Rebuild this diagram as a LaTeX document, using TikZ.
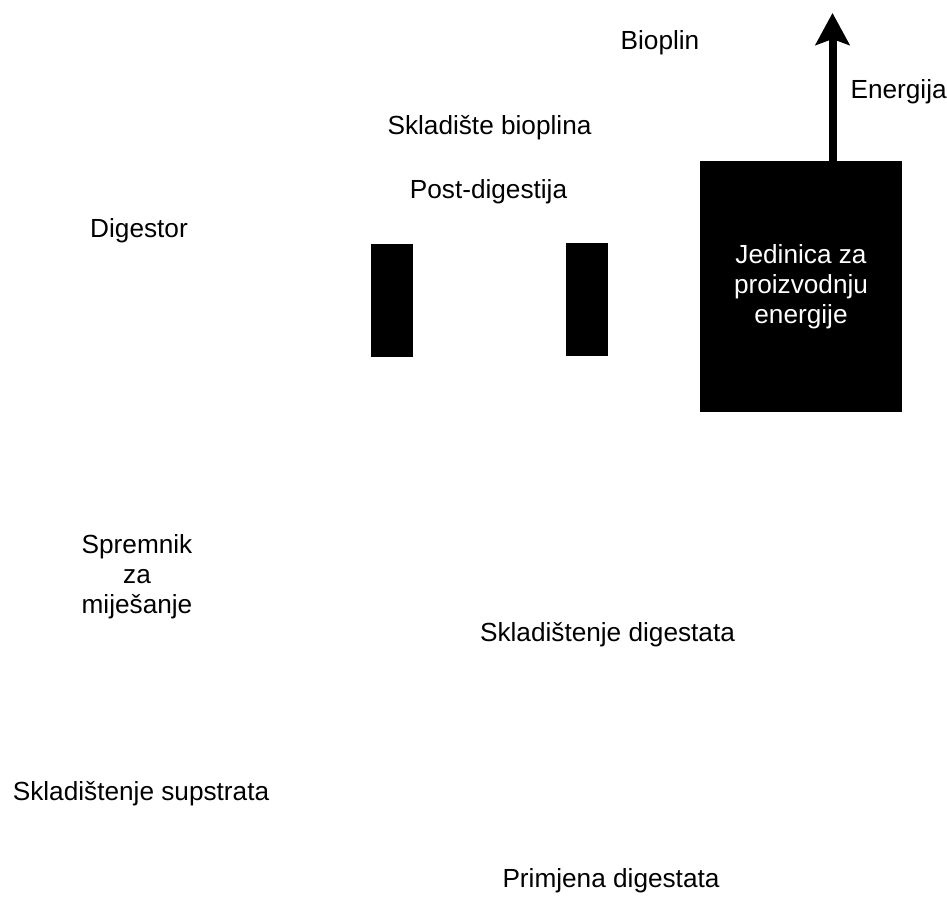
\documentclass[tikz,border=0pt]{standalone}
\usepackage{fontspec}
\setmainfont{Liberation Sans}
\usepackage{tikz}
\usetikzlibrary{arrows.meta,positioning}

\newcommand{\plantfont}{\fontsize{26.2}{30}\selectfont}

\begin{document}
\begin{tikzpicture}[
    x=1pt, y=-1pt,
    tag/.style={anchor=base, align=center, font=\plantfont},
    tank/.style={rectangle, fill=black, inner sep=0pt,
                minimum width=42pt, minimum height=113pt},
    unit/.style={rectangle, fill=black, text=white, inner sep=0pt,
                minimum width=202pt, minimum height=251pt,
                align=center, font=\plantfont},
    >=Stealth
]
\useasboundingbox (0,0) rectangle (947,901);

\node[tank] (digtank) at (392,300.5) {};
\node[tank] (posttank) at (587,299.5) {};
\node[unit] (unit) at (801,286.5) {Jedinica za\\proizvodnju\\energije};

\node[tag] (biogas) at (660,50) {Bioplin};
\node[tag] (gasstore) at (489.5,135) {Skladište bioplina};
\node[tag] (postdig) at (488.5,199) {Post-digestija};
\node[tag] (digester) at (139,238) {Digestor};
\node[tag, anchor=center] (mixtank) at (137,577) {Spremnik\\za\\miješanje};
\node[tag] (digstore) at (607.5,641) {Skladištenje digestata};
\node[tag] (substore) at (141,800) {Skladištenje supstrata};
\node[tag] (digapply) at (611,887) {Primjena digestata};

\coordinate (energytip) at (832.5,13);
\draw[line width=8pt, -{Stealth[length=32pt,width=34pt,inset=6pt]}]
    (unit.north -| energytip) -- (energytip);
\node[tag, anchor=base west] (energy) at (847,99) {Energija};
\end{tikzpicture}
\end{document}
